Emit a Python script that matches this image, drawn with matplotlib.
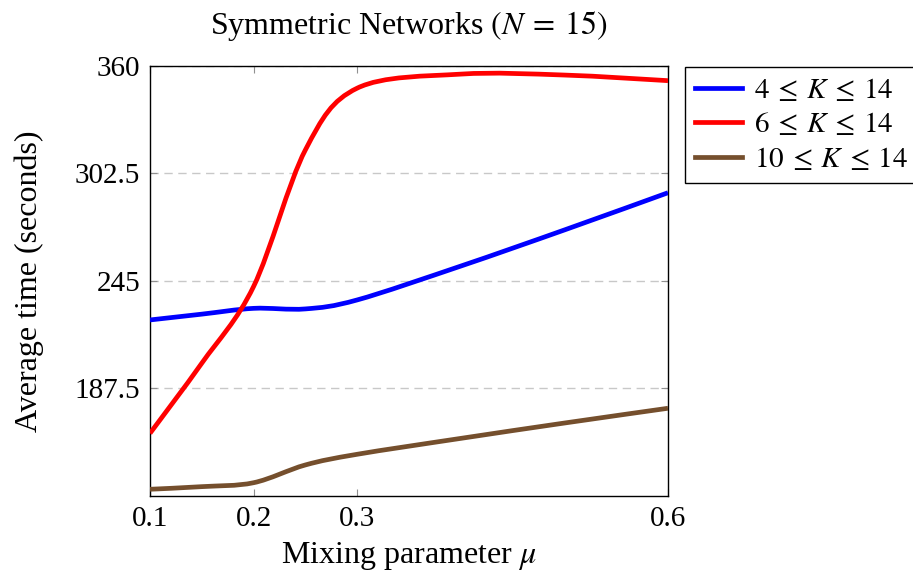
import matplotlib
matplotlib.use("Agg")
import matplotlib.pyplot as plt
from matplotlib.path import Path
from matplotlib.patches import PathPatch
from matplotlib.lines import Line2D
import numpy as np

# ---- data ----
mu = [0.1, 0.15, 0.2, 0.25, 0.3, 0.4, 0.5, 0.6]
k4 = [224.1, 227.2, 230.3, 230.0, 234.8, 252.9, 272.2, 292.1]
k6 = [163.5, 201.0, 242.0, 315.0, 348.0, 355.5, 355.0, 352.0]
k10 = [133.6, 135.0, 137.1, 146.6, 152.3, 160.8, 169.0, 176.9]
labels = [r"$4\:\leq\:K\:\leq\:14$", r"$6\:\leq\:K\:\leq\:14$", r"$10\:\leq\:K\:\leq\:14$"]
colors = ["#0000ff", "#ff0000", "#754f2d"]
xticks = [0.1, 0.2, 0.3, 0.6]
yticks = [187.5, 245, 302.5, 360]
ytick_labels = ["187.5", "245", "302.5", "360"]

plt.rcParams["font.family"] = ["Liberation Serif", "DejaVu Serif"]
plt.rcParams["mathtext.fontset"] = "stix"

fig = plt.figure(figsize=(9.13, 5.81), dpi=100)
ax = fig.add_axes([150 / 913, (581 - 496) / 581, 518 / 913, (496 - 65.7) / 581])


def smooth_path(xs, ys, tension=0.165):
    pts = np.column_stack([xs, ys]).astype(float)
    n = len(pts)
    verts = [pts[0]]
    codes = [Path.MOVETO]
    for i in range(n - 1):
        p0 = pts[i - 1] if i > 0 else pts[i]
        p1 = pts[i]
        p2 = pts[i + 1]
        p3 = pts[i + 2] if i + 2 < n else pts[i + 1]
        c1 = p1 + tension * (p2 - p0)
        c2 = p2 - tension * (p3 - p1)
        verts += [c1, c2, p2]
        codes += [Path.CURVE4] * 3
    return Path(verts, codes)


handles = []
for ys, c, lab in zip([k4, k6, k10], colors, labels):
    patch = PathPatch(smooth_path(mu, ys), facecolor="none", edgecolor=c,
                      linewidth=3.4, capstyle="butt", joinstyle="round",
                      transform=ax.transData, zorder=3)
    ax.add_patch(patch)
    handles.append(Line2D([], [], color=c, linewidth=3.4, label=lab))

ax.set_xlim(0.1, 0.6)
ax.set_ylim(130, 360)
ax.set_xticks(xticks)
ax.set_xticklabels(["0.1", "0.2", "0.3", "0.6"])
ax.set_yticks(yticks)
ax.set_yticklabels(ytick_labels)
ax.tick_params(axis="both", direction="in", top=True, right=True, length=5,
               width=0.8, color="#909090", labelsize=21)
ax.tick_params(axis="x", pad=7)
ax.tick_params(axis="y", pad=7)
ax.grid(axis="y", color="#c8c8c8", linestyle=(0, (6, 4)), linewidth=1.0)
for s in ax.spines.values():
    s.set_linewidth(1.0)
    s.set_color("black")

ax.set_title(r"Symmetric Networks $(N\:=\:15)$", fontsize=23, pad=23)
ax.set_xlabel(r"Mixing parameter $\mu$", fontsize=23, labelpad=6)
ax.set_ylabel("Average time (seconds)", fontsize=23, labelpad=22)

leg = ax.legend(handles=handles, loc="upper left", bbox_to_anchor=(1.033, 0.997),
                fontsize=21, frameon=True, fancybox=False, edgecolor="black",
                framealpha=1, handlelength=1.6, handletextpad=0.4,
                labelspacing=0.25, borderpad=0.35, borderaxespad=0)
leg.get_frame().set_linewidth(1.0)

fig.savefig("out.png", dpi=100)
